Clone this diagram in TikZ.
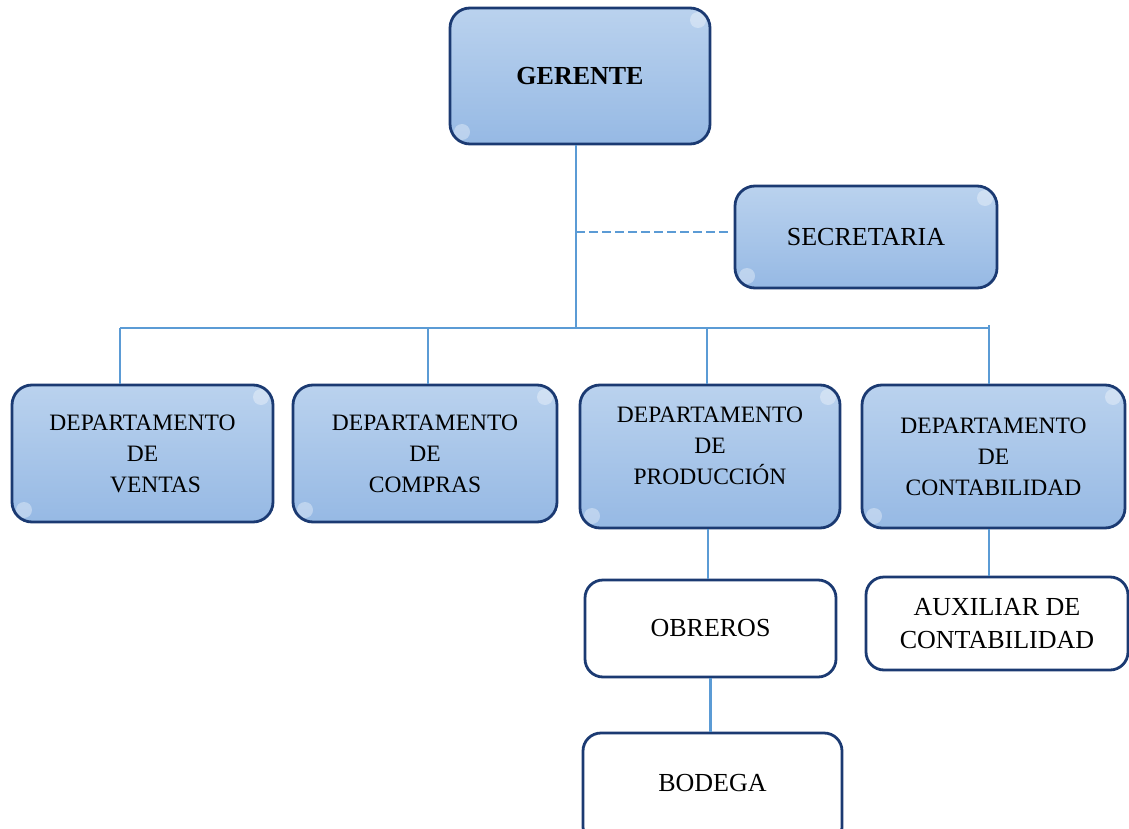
\documentclass[tikz,border=0pt]{standalone}
\usepackage{fontspec}
\setmainfont{Liberation Serif}
\usetikzlibrary{calc}
\definecolor{bfilltop}{HTML}{BAD2EE}
\definecolor{bfillbot}{HTML}{96B9E4}
\definecolor{bordcol}{HTML}{1B3A72}
\definecolor{conncol}{HTML}{5B9BD5}
\tikzset{
  box/.style={draw=bordcol, line width=2.8pt, rounded corners=20pt, inner sep=0pt, align=center},
  bluebox/.style={box, top color=bfilltop, bottom color=bfillbot,
    path picture={
      \fill[white,opacity=0.35] ($(path picture bounding box.north east)+(-12,-12)$) circle (8);
      \fill[white,opacity=0.35] ($(path picture bounding box.south west)+(12,12)$) circle (8);
    }},
  deptfont/.style={font=\fontsize{23.5}{31}\selectfont},
  bigfont/.style={font=\fontsize{26}{33}\selectfont},
  whitebox/.style={box, fill=white, rounded corners=18pt},
  connline/.style={draw=conncol, line width=2.8pt},
}
\begin{document}
\begin{tikzpicture}[x=1pt,y=1pt]
\useasboundingbox (0,0) rectangle (1129,-829);
% nodes
\node[bluebox, bigfont, minimum width=260, minimum height=136] (ger) at (580,-76) {\bfseries GERENTE};
\node[bluebox, bigfont, minimum width=262, minimum height=102] (sec) at (866,-237) {SECRETARIA};
\node[bluebox, deptfont, minimum width=261, minimum height=137] (ventas) at (142.5,-453.5) {DEPARTAMENTO\\DE\\\hspace*{26pt}VENTAS};
\node[bluebox, deptfont, minimum width=264, minimum height=137] (compras) at (425,-453.5) {DEPARTAMENTO\\DE\\COMPRAS};
\node[bluebox, deptfont, minimum width=260, minimum height=143, text depth=22pt] (prod) at (710,-456.5) {DEPARTAMENTO\\DE\\PRODUCCIÓN};
\node[bluebox, deptfont, minimum width=263, minimum height=143] (cont) at (993.5,-456.5) {DEPARTAMENTO\\DE\\CONTABILIDAD};
\node[whitebox, bigfont, minimum width=251, minimum height=97] (obr) at (710.5,-628.5) {OBREROS};
\node[whitebox, bigfont, minimum width=262, minimum height=93] (aux) at (997,-623.5) {AUXILIAR DE\\CONTABILIDAD};
\node[whitebox, bigfont, minimum width=259, minimum height=112, text depth=12pt] (bod) at (712.5,-789) {BODEGA};
% connectors
\coordinate (j) at (576,-328);
\coordinate (v1) at (120,-328);
\coordinate (v2) at (428,-328);
\coordinate (v3) at (707,-328);
\coordinate (v4) at (989,-328);
\coordinate (d) at (576,-232);
\draw[connline] (j |- ger.south) -- (j);
\draw[connline] (v1) -- (v4);
\draw[connline] (v1) -- (v1 |- ventas.north);
\draw[connline] (v2) -- (v2 |- compras.north);
\draw[connline] (v3) -- (v3 |- prod.north);
\draw[connline] ($(v4)+(0,3)$) -- (v4 |- cont.north);
\draw[connline, dash pattern=on 9pt off 4pt] (d) -- ($(d -| sec.west)+(-4,0)$);
\draw[connline] ($(prod.south)+(-2,0)$) -- ($(prod.south |- obr.north)+(-2,0)$);
\draw[connline] (obr.south) -- (obr.south |- bod.north);
\draw[connline] (v4 |- cont.south) -- (v4 |- aux.north);
\end{tikzpicture}
\end{document}
